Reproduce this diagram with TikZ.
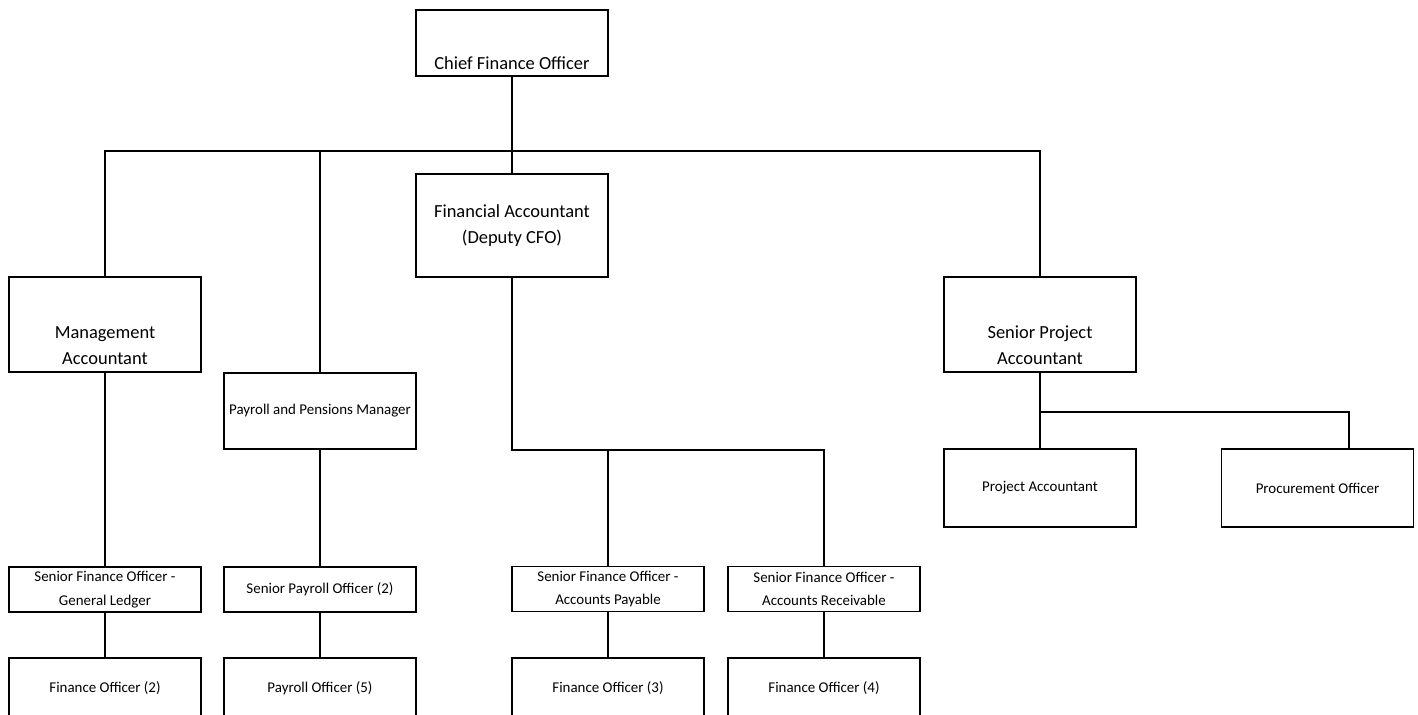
\documentclass[tikz,border=0pt]{standalone}
\usepackage{fontspec}
\setmainfont{Carlito}
\begin{document}
\begin{tikzpicture}
[x=0.02cm,y=-0.02cm,
box/.style={draw,line width=1.1pt,minimum width=3.84cm,inner sep=0pt,align=center},
bigText/.style={font=\fontsize{10.5}{15}\selectfont},
smallText/.style={font=\fontsize{8.5}{13.5}\selectfont},
edge/.style={line width=0.75pt}]
\useasboundingbox (0,0) rectangle (1418,715);
\clip (0,0) rectangle (1418,715);
\node[box,bigText,text height=1.2cm,text depth=0.12cm] (cfo) at (512,43) {Chief Finance Officer};
\node[box,bigText,minimum height=2.06cm] (fa) at (512,225.5) {Financial Accountant\\(Deputy CFO)};
\node[box,bigText,text height=1.76cm,text depth=0.14cm] (ma) at (105,324.5) {\begin{tabular}[b]{@{}c@{}}Management\\Accountant\end{tabular}};
\node[box,bigText,text height=1.76cm,text depth=0.14cm] (spa) at (1040,324.5) {\begin{tabular}[b]{@{}c@{}}Senior Project\\Accountant\end{tabular}};
\node[box,smallText,minimum height=1.52cm] (ppm) at (320,411) {Payroll and Pensions Manager};
\node[box,smallText,minimum height=1.56cm] (pa) at (1040,488) {Project Accountant};
\node[box,smallText,minimum height=1.56cm] (proc) at (1317.5,488) {Procurement Officer};
\node[box,smallText,minimum height=0.9cm] (gl) at (105,589.5) {Senior Finance Officer -\\General Ledger};
\node[box,smallText,minimum height=0.9cm] (spo) at (320,589.5) {Senior Payroll Officer (2)};
\node[box,smallText,minimum height=0.9cm] (ap) at (608,589) {Senior Finance Officer -\\Accounts Payable};
\node[box,smallText,minimum height=0.9cm] (ar) at (824,589) {Senior Finance Officer -\\Accounts Receivable};
\node[box,smallText,minimum height=1.2cm] (fo2) at (105,688) {Finance Officer (2)};
\node[box,smallText,minimum height=1.2cm] (fo5) at (320,688) {Payroll Officer (5)};
\node[box,smallText,minimum height=1.2cm] (fo3) at (608,688) {Finance Officer (3)};
\node[box,smallText,minimum height=1.2cm] (fo4) at (824,688) {Finance Officer (4)};
\coordinate (bus) at (512,151);
\coordinate (faBus) at (608,450);
\coordinate (spaBus) at (1040,412);
\draw[edge] (cfo) -- (fa);
\draw[edge] (ma.north) |- (bus) -| (spa.north);
\draw[edge] (ppm.north) |- (bus);
\draw[edge] (fa.south) |- (faBus) -| (ar.north);
\draw[edge] (faBus) -- (ap.north);
\draw[edge] (spa.south) -- (spaBus) -| ([xshift=0.63cm]proc.north);
\draw[edge] (spaBus) -- (pa.north);
\draw[edge] (ma) -- (gl);
\draw[edge] (ppm) -- (spo);
\draw[edge] (gl) -- (fo2);
\draw[edge] (spo) -- (fo5);
\draw[edge] (ap) -- (fo3);
\draw[edge] (ar) -- (fo4);
\end{tikzpicture}
\end{document}
